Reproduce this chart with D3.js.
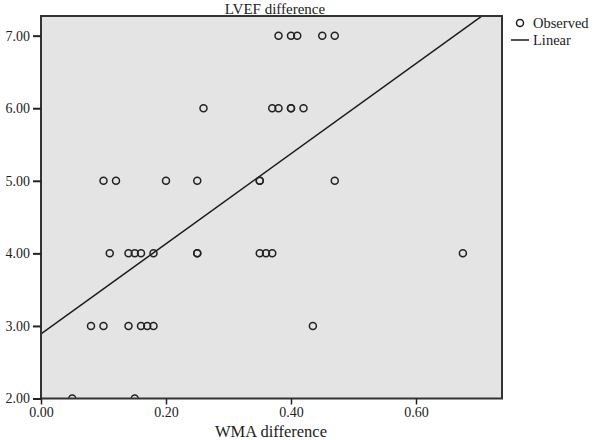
<!DOCTYPE html>
<html>
<head>
<meta charset="utf-8">
<script src="https://cdn.jsdelivr.net/npm/d3@7"></script>
<style>
  html, body { margin: 0; padding: 0; background: #fff; }
  svg { display: block; }
  text { font-family: "Liberation Serif", "Times New Roman", serif; fill: #222; }
</style>
</head>
<body>
<svg id="chart" width="595" height="440"></svg>
<script>
// ---- data ----
const wmaDiff = [
  0.38, 0.40, 0.41, 0.45, 0.47,
  0.26, 0.37, 0.38, 0.40, 0.40, 0.42,
  0.10, 0.12, 0.20, 0.25, 0.35, 0.35, 0.47,
  0.11, 0.14, 0.15, 0.16, 0.18, 0.25, 0.25, 0.35, 0.36, 0.37, 0.675,
  0.08, 0.10, 0.14, 0.16, 0.17, 0.18, 0.435,
  0.05, 0.15
];
const lvefDiff = [
  7, 7, 7, 7, 7,
  6, 6, 6, 6, 6, 6,
  5, 5, 5, 5, 5, 5, 5,
  4, 4, 4, 4, 4, 4, 4, 4, 4, 4, 4,
  3, 3, 3, 3, 3, 3, 3,
  2, 2
];
const xTicks = [0.00, 0.20, 0.40, 0.60];
const yTicks = [2.00, 3.00, 4.00, 5.00, 6.00, 7.00];
const fitIntercept = 2.89;
const fitSlope = 6.21;
const xDomain = [0, 0.7376];
const yDomain = [2, 7.271];
const legendItems = ["Observed", "Linear"];

// ---- layout ----
const svg = d3.select("#chart");
const L = 41, R = 502, T = 16, B = 398.5;
const x = d3.scaleLinear().domain(xDomain).range([L, R]);
const y = d3.scaleLinear().domain(yDomain).range([B, T]);

svg.append("defs").append("clipPath").attr("id", "plotclip")
  .append("rect").attr("x", L).attr("y", T).attr("width", R - L).attr("height", B - T);

// plot background
svg.append("rect").attr("x", L).attr("y", T).attr("width", R - L).attr("height", B - T)
  .attr("fill", "#e4e4e4");

const plot = svg.append("g").attr("clip-path", "url(#plotclip)");

// regression line
const fx = xDomain;
plot.append("line")
  .attr("x1", x(fx[0])).attr("y1", y(fitIntercept + fitSlope * fx[0]))
  .attr("x2", x(fx[1])).attr("y2", y(fitIntercept + fitSlope * fx[1]))
  .attr("stroke", "#1a1a1a").attr("stroke-width", 1.5);

// points
plot.selectAll("circle.pt").data(wmaDiff.map((v, i) => [v, lvefDiff[i]]))
  .enter().append("circle").attr("class", "pt")
  .attr("cx", d => x(d[0])).attr("cy", d => y(d[1]))
  .attr("r", 3.5).attr("fill", "none").attr("stroke", "#222").attr("stroke-width", 1.5);

// frame
svg.append("rect").attr("x", L).attr("y", T).attr("width", R - L).attr("height", B - T)
  .attr("fill", "none").attr("stroke", "#333").attr("stroke-width", 2);

// axes
const yAxis = d3.axisLeft(y).tickValues(yTicks).tickFormat(d3.format(".2f")).tickSize(8).tickPadding(3);
const gy = svg.append("g").attr("transform", `translate(${L},0)`).call(yAxis);
gy.select(".domain").remove();
gy.selectAll("line").attr("stroke", "#222").attr("stroke-width", 2);
gy.selectAll("text").style("font-family", '"Liberation Serif", serif').style("font-size", "14px").attr("fill", "#222");

const xAxis = d3.axisBottom(x).tickValues(xTicks).tickFormat(d3.format(".2f")).tickSize(6).tickPadding(3);
const gx = svg.append("g").attr("transform", `translate(0,${B})`).call(xAxis);
gx.select(".domain").remove();
gx.selectAll("line").attr("stroke", "#222").attr("stroke-width", 1.5);
gx.selectAll("text").style("font-family", '"Liberation Serif", serif').style("font-size", "14px").attr("fill", "#222");

// titles
svg.append("text").attr("x", 275).attr("y", 13.5).attr("text-anchor", "middle")
  .style("font-size", "15px").text("LVEF difference");
svg.append("text").attr("x", 271).attr("y", 437).attr("text-anchor", "middle")
  .style("font-size", "16.5px").text("WMA difference");

// legend
const lg = svg.append("g");
lg.append("circle").attr("cx", 520).attr("cy", 23).attr("r", 3.5)
  .attr("fill", "none").attr("stroke", "#222").attr("stroke-width", 1.5);
lg.append("line").attr("x1", 511).attr("x2", 529).attr("y1", 40).attr("y2", 40)
  .attr("stroke", "#1a1a1a").attr("stroke-width", 1.5);
lg.selectAll("text.lt").data(legendItems).enter().append("text").attr("class", "lt")
  .attr("x", 533).attr("y", (d, i) => 28 + i * 17)
  .style("font-size", "14.5px").text(d => d);
</script>
</body>
</html>
